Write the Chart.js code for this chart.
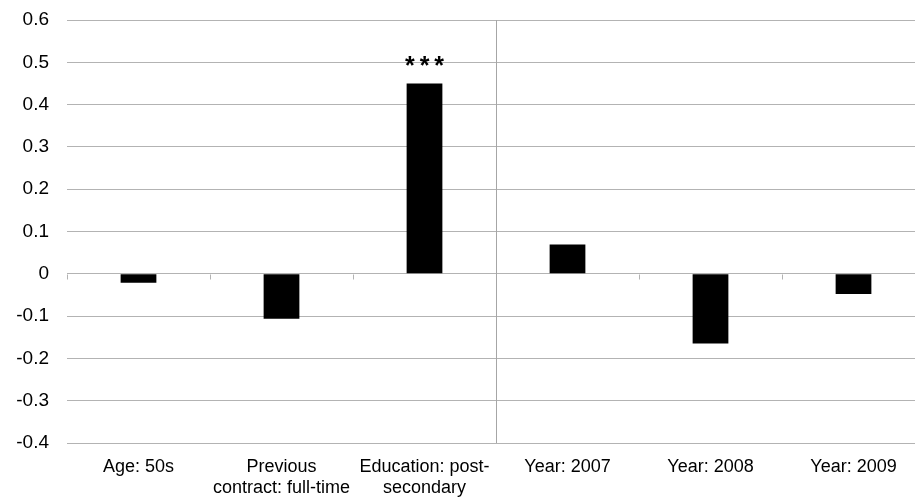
<!DOCTYPE html>
<html>
<head>
<meta charset="utf-8">
<script src="https://cdn.jsdelivr.net/npm/chart.js@4"></script>
<style>
  html, body { margin: 0; padding: 0; background: #fff; overflow: hidden; }
  #wrap { width: 925px; height: 500px; }
</style>
</head>
<body>
<div id="wrap"><canvas id="myChart"></canvas></div>
<script>
const categories = [
  'Age: 50s',
  ['Previous', 'contract: full-time'],
  ['Education: post-', 'secondary'],
  'Year: 2007',
  'Year: 2008',
  'Year: 2009'
];
const values = [-0.021, -0.106, 0.45, 0.069, -0.165, -0.048];
const stars = ['', '', '***', '', '', ''];
const yTicks = [-0.4, -0.3, -0.2, -0.1, 0, 0.1, 0.2, 0.3, 0.4, 0.5, 0.6];

const gridGrey = '#b3b3b3';
const fontFamily = '"Liberation Sans", Arial, sans-serif';

// zero line ticks, separator line and significance stars
const extras = {
  id: 'extras',
  afterDatasetsDraw(chart) {
    const ctx = chart.ctx;
    const x = chart.scales.x;
    const y = chart.scales.y;
    const area = chart.chartArea;
    const y0 = Math.round(y.getPixelForValue(0)) + 0.5;
    ctx.save();
    ctx.strokeStyle = gridGrey;
    ctx.lineWidth = 1;
    for (let i = 0; i <= categories.length; i++) {
      const bx = Math.round(area.left + (area.right - area.left) * i / categories.length) + 0.5;
      ctx.beginPath();
      ctx.moveTo(bx, y0);
      ctx.lineTo(bx, y0 + 5);
      ctx.stroke();
    }
    // separator between education and years
    const sx = Math.round((x.getPixelForValue(2) + x.getPixelForValue(3)) / 2) + 0.5;
    ctx.strokeStyle = '#a6a6a6';
    ctx.beginPath();
    ctx.moveTo(sx, area.top);
    ctx.lineTo(sx, area.bottom);
    ctx.stroke();
    // stars, drawn one by one for the wide spacing
    ctx.fillStyle = '#000';
    ctx.font = 'bold 25px ' + fontFamily;
    ctx.textAlign = 'center';
    ctx.textBaseline = 'middle';
    stars.forEach((s, i) => {
      if (!s) return;
      const bx = x.getPixelForValue(i);
      const by = y.getPixelForValue(Math.max(values[i], 0)) - 16;
      for (let k = 0; k < s.length; k++) {
        const off = (k - (s.length - 1) / 2) * 14.7;
        ctx.fillText(s[k], bx + off, by);
      }
    });
    ctx.restore();
  }
};

const data = {
  labels: categories,
  datasets: [{
    data: values,
    backgroundColor: '#000',
    borderWidth: 0,
    barPercentage: 0.25,
    categoryPercentage: 1.0
  }]
};

const config = {
  type: 'bar',
  data: data,
  plugins: [extras],
  options: {
    responsive: true,
    maintainAspectRatio: false,
    animation: false,
    layout: { padding: { top: 20, right: 0, bottom: 0, left: 0 } },
    plugins: {
      legend: { display: false },
      tooltip: { enabled: false }
    },
    scales: {
      x: {
        grid: { display: false, drawTicks: false },
        border: { display: false },
        afterFit(scale) { scale.height = 57; },
        ticks: {
          color: '#000',
          font: { family: fontFamily, size: 18, lineHeight: 1.18 },
          maxRotation: 0,
          autoSkip: false,
          padding: 13
        }
      },
      y: {
        min: -0.4,
        max: 0.6,
        afterBuildTicks(scale) {
          scale.ticks = yTicks.map(v => ({ value: v }));
        },
        afterFit(scale) {
          scale.width = 67;
          scale.paddingTop = 0;
          scale.paddingBottom = 0;
        },
        grid: { color: gridGrey, lineWidth: 1, drawTicks: false },
        border: { display: false },
        ticks: {
          color: '#000',
          font: { family: fontFamily, size: 19 },
          padding: 18,
          callback: v => String(Math.round(v * 10) / 10)
        }
      }
    }
  }
};

const myChart = new Chart(document.getElementById('myChart'), config);
</script>
</body>
</html>
